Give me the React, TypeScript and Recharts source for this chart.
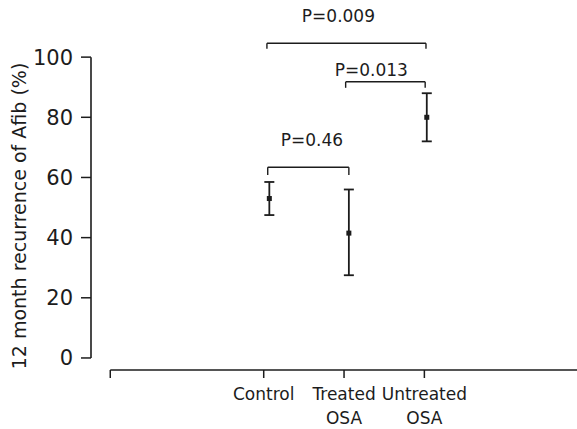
import {
  ComposedChart,
  ErrorBar,
  ReferenceDot,
  ReferenceLine,
  Scatter,
  XAxis,
  YAxis,
  ZAxis
} from "recharts";

// group positions on the x scale, and where the mean/error bar actually sits
const groupPos = [1, 2, 3];
const tickLines = [["Control"], ["Treated", "OSA"], ["Untreated", "OSA"]];
const pointPos = [1.07, 2.06, 3.03];

// 12 month recurrence (%), mean and error bar ends
const means = [53, 41.5, 80];
const lows = [47.5, 27.5, 72];
const highs = [58.5, 56, 88];

// significance brackets
const bracketFrom = [1.05, 2.02, 1.04];
const bracketTo = [2.06, 3.01, 3.02];
const bracketTop = [63.4, 91.8, 104.6];
const bracketFoot = [60.8, 89.8, 102.8];
const pLabels = ["P=0.46", "P=0.013", "P=0.009"];
const pLabelX = [1.6, 2.34, 1.93];
const pLabelY = [72.4, 95.8, 113.6];

const yTicks = [0, 20, 40, 60, 80, 100];
const xDomain: [number, number] = [-1.15, 4.9];
const yDomain: [number, number] = [-4, 115];
const axisStart = -0.91;

const ink = "#1c1c1c";
const font = "'DejaVu Sans', sans-serif";

const points = means.map((m, i) => ({
  x: pointPos[i],
  y: m,
  err: [m - lows[i], highs[i] - m]
}));

function CategoryTick(props: any) {
  const { x, y, payload } = props;
  const i = groupPos.indexOf(payload.value);
  if (i < 0) return null;
  return (
    <text x={x} y={y} textAnchor="middle" fill={ink} fontSize={17} fontFamily={font}>
      {tickLines[i].map((line, k) => (
        <tspan key={k} x={x} dy={k === 0 ? 20 : 24}>
          {line}
        </tspan>
      ))}
    </text>
  );
}

function MeanMark(props: any) {
  const { cx, cy } = props;
  return <rect x={cx - 2.5} y={cy - 2.5} width={5} height={5} fill={ink} />;
}

function YTitle(props: any) {
  const { viewBox } = props;
  const cx = viewBox.x + 19;
  const cy = viewBox.y + viewBox.height / 2 + 25;
  return (
    <text
      x={cx}
      y={cy}
      transform={`rotate(-90, ${cx}, ${cy})`}
      textAnchor="middle"
      dominantBaseline="central"
      fill={ink}
      fontSize={19}
      fontFamily={font}
    >
      12 month recurrence of Afib (%)
    </text>
  );
}

export default function App() {
  return (
    <div style={{ position: "fixed", left: 0, top: 0, background: "#fff" }}>
      <ComposedChart width={577} height={429} margin={{ top: 12, right: 0, bottom: 0, left: 0 }}>
        <XAxis
          type="number"
          dataKey="x"
          domain={xDomain}
          ticks={[axisStart, ...groupPos]}
          tick={<CategoryTick />}
          tickSize={8}
          tickLine={{ stroke: ink, strokeWidth: 1.5 }}
          axisLine={false}
          height={59}
          allowDataOverflow
        />
        <YAxis
          type="number"
          dataKey="y"
          domain={yDomain}
          ticks={yTicks}
          width={91}
          tickSize={10}
          tickMargin={8}
          tickLine={{ stroke: ink, strokeWidth: 1.5 }}
          axisLine={false}
          tick={{ fill: ink, fontSize: 21, fontFamily: font }}
          label={<YTitle />}
          allowDataOverflow
        />
        <ZAxis range={[25, 25]} />

        {/* axis lines: y stops at 0 and 100, x starts right of the y axis */}
        <ReferenceLine
          segment={[{ x: xDomain[0], y: 0 }, { x: xDomain[0], y: 100 }]}
          stroke={ink}
          strokeWidth={1.6}
          ifOverflow="visible"
        />
        <ReferenceLine
          segment={[{ x: axisStart, y: yDomain[0] }, { x: xDomain[1], y: yDomain[0] }]}
          stroke={ink}
          strokeWidth={1.6}
          ifOverflow="visible"
        />

        {bracketTop.map((top, i) => [
          <ReferenceLine
            key={`l${i}`}
            segment={[{ x: bracketFrom[i], y: bracketFoot[i] }, { x: bracketFrom[i], y: top }]}
            stroke={ink}
            strokeWidth={1.4}
            ifOverflow="visible"
          />,
          <ReferenceLine
            key={`t${i}`}
            segment={[{ x: bracketFrom[i], y: top }, { x: bracketTo[i], y: top }]}
            stroke={ink}
            strokeWidth={1.4}
            ifOverflow="visible"
          />,
          <ReferenceLine
            key={`r${i}`}
            segment={[{ x: bracketTo[i], y: top }, { x: bracketTo[i], y: bracketFoot[i] }]}
            stroke={ink}
            strokeWidth={1.4}
            ifOverflow="visible"
          />
        ])}

        {pLabels.map((text, i) => (
          <ReferenceDot
            key={text}
            x={pLabelX[i]}
            y={pLabelY[i]}
            r={1}
            fill="none"
            stroke="none"
            ifOverflow="visible"
            label={{ value: text, position: "center", fill: ink, fontSize: 17, fontFamily: font }}
          />
        ))}

        <Scatter data={points} dataKey="y" shape={<MeanMark />} isAnimationActive={false}>
          <ErrorBar dataKey="err" direction="y" width={5} stroke={ink} strokeWidth={1.8} isAnimationActive={false} />
        </Scatter>
      </ComposedChart>
    </div>
  );
}
